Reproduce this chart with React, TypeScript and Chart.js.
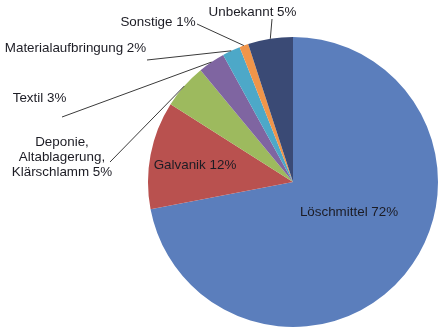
import React, { useEffect, useRef } from 'react';
import { Chart, registerables } from 'chart.js';

Chart.register(...registerables);

const categories = [
  'Löschmittel',
  'Galvanik',
  'Deponie, Altablagerung, Klärschlamm',
  'Textil',
  'Materialaufbringung',
  'Sonstige',
  'Unbekannt',
];
const shares = [72, 12, 5, 3, 2, 1, 5];
const sliceColors = ['#5B7EBC', '#B9514F', '#9DBA5E', '#7F65A1', '#4DA8C8', '#F0954A', '#3A4A75'];
const labelLines = [
  ['Löschmittel 72%'],
  ['Galvanik 12%'],
  ['Deponie,', 'Altablagerung,', 'Klärschlamm 5%'],
  ['Textil 3%'],
  ['Materialaufbringung 2%'],
  ['Sonstige 1%'],
  ['Unbekannt 5%'],
];
// label centre (first line) relative to pie centre, px
const labelOffsets = [
  [56, 30],
  [-98, -17],
  [-231, -40],
  [-253.5, -84],
  [-217.5, -134],
  [-135, -160],
  [-40.5, -170],
];
// leader line start relative to pie centre (null = inside label)
const leaderStarts: (number[] | null)[] = [
  null,
  null,
  [-183, -20],
  [-231, -65],
  [-146, -122],
  [-96, -158],
  [-21, -163],
];

const FONT = '13.4px "Liberation Sans", Arial, sans-serif';

const labelPlugin = {
  id: 'pieLabels',
  afterDraw(chart: any) {
    const ctx = chart.ctx;
    const meta = chart.getDatasetMeta(0);
    ctx.save();
    meta.data.forEach((arc: any, i: number) => {
      const p = arc.getProps(['x', 'y', 'startAngle', 'endAngle', 'outerRadius'], true);
      const mid = (p.startAngle + p.endAngle) / 2;
      const ls = leaderStarts[i];
      if (ls) {
        const ex = p.x + Math.cos(mid) * p.outerRadius;
        const ey = p.y + Math.sin(mid) * p.outerRadius;
        ctx.beginPath();
        ctx.strokeStyle = '#3a3a3a';
        ctx.lineWidth = 1;
        ctx.moveTo(p.x + ls[0], p.y + ls[1]);
        ctx.lineTo(ex, ey);
        ctx.stroke();
      }
      ctx.font = FONT;
      ctx.fillStyle = '#1c1c24';
      ctx.textAlign = 'center';
      ctx.textBaseline = 'middle';
      const [dx, dy] = labelOffsets[i];
      labelLines[i].forEach((line, k) => {
        ctx.fillText(line, p.x + dx, p.y + dy + k * 15);
      });
    });
    ctx.restore();
  },
};

export default function App() {
  const ref = useRef<HTMLCanvasElement>(null);
  useEffect(() => {
    if (!ref.current) return;
    const chart = new Chart(ref.current, {
      type: 'pie',
      data: {
        labels: categories,
        datasets: [
          {
            data: shares,
            backgroundColor: sliceColors,
            borderWidth: 0,
          },
        ],
      },
      options: {
        responsive: false,
        animation: false,
        layout: { padding: { left: 148, right: 5, top: 37, bottom: 5 } },
        plugins: { legend: { display: false }, tooltip: { enabled: false } },
      },
      plugins: [labelPlugin],
    });
    return () => chart.destroy();
  }, []);
  return (
    <div style={{ position: 'fixed', left: 0, top: 0, width: 443, height: 332, background: '#fff' }}>
      <canvas ref={ref} width={443} height={332} style={{ width: 443, height: 332, display: 'block' }} />
    </div>
  );
}
